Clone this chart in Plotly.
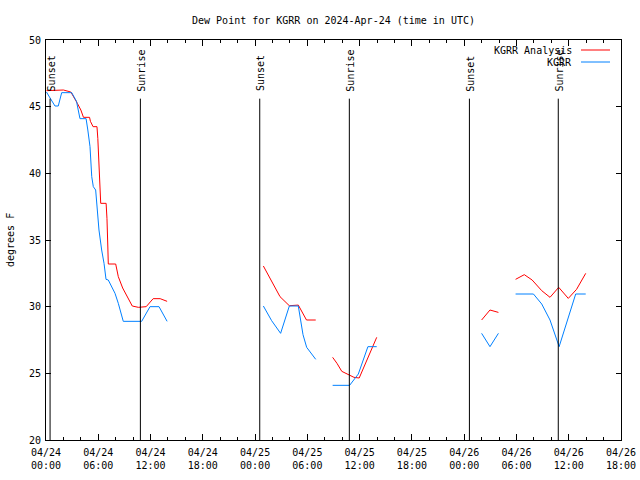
import pandas as pd
import plotly.graph_objects as go

# ---------------- data ----------------
start_time = "2024-04-24 00:00"

# KGRR Analysis (red), hours after start, split in segments (gaps between)
red_hours = [
    [0.05, 2.0, 2.85, 3.2, 3.6, 4.0, 4.3, 5.0, 5.1, 5.4, 5.85, 5.95, 6.08, 6.2, 6.28,
     6.9, 7.0, 7.1, 7.15, 8.0, 8.3, 8.8, 9.45, 9.9, 10.6, 11.5, 12.3, 13.1, 13.9],
    [24.95, 25.5, 26.1, 26.86, 27.93, 28.5, 28.96, 29.9, 30.96],
    [32.9, 33.4, 33.95, 34.8, 35.35, 35.95, 37.0, 37.96],
    [50.0, 50.96, 51.93],
    [53.9, 54.9, 55.8, 56.9, 57.85, 58.85, 59.95, 60.9, 61.95],
]
red_values = [
    [46.2, 46.25, 46.1, 45.75, 45.25, 44.75, 44.2, 44.2, 43.9, 43.5, 43.5, 42.6, 40.75, 38.75, 37.75,
     37.75, 36.6, 34.4, 33.2, 33.2, 32.25, 31.4, 30.6, 30.05, 29.95, 30.0, 30.6, 30.6, 30.4],
    [33.05, 32.4, 31.75, 30.75, 30.07, 30.12, 30.12, 29.0, 29.0],
    [26.2, 25.75, 25.15, 24.9, 24.7, 24.65, 26.25, 27.7],
    [29.0, 29.75, 29.57],
    [32.05, 32.4, 32.0, 31.2, 30.7, 31.45, 30.62, 31.3, 32.5],
]

# KGRR observations (blue)
blue_hours = [
    [0.05, 1.03, 1.41, 1.8, 2.95, 3.5, 3.9, 4.6, 4.8, 5.05, 5.25, 5.43, 5.7, 5.8, 6.08,
     6.39, 6.66, 6.89, 7.15, 7.92, 8.3, 8.87, 10.98, 11.94, 12.97, 13.9],
    [24.95, 25.9, 26.93, 27.93, 28.96, 29.35, 29.5, 29.92, 30.96],
    [32.9, 34.85, 35.85, 36.95, 37.96],
    [50.0, 50.96, 51.93],
    [53.9, 55.95, 56.9, 57.85, 58.9, 60.8, 61.95],
]
blue_values = [
    [46.1, 45.05, 45.05, 46.05, 46.05, 45.4, 44.1, 44.1, 43.25, 42.0, 39.75, 39.0, 38.75, 37.75, 35.75,
     34.25, 33.25, 32.05, 32.0, 31.0, 30.25, 28.9, 28.9, 30.0, 30.0, 28.9],
    [30.05, 28.95, 28.0, 30.05, 30.05, 28.5, 27.9, 26.95, 26.05],
    [24.1, 24.1, 24.95, 27.0, 27.0],
    [28.0, 27.0, 28.0],
    [30.95, 30.95, 30.2, 29.0, 27.0, 30.95, 30.95],
]

sun_times = ["2024-04-24 00:28", "2024-04-24 10:50", "2024-04-25 00:32",
             "2024-04-25 10:49", "2024-04-26 00:36", "2024-04-26 10:48"]
sun_labels = ["Sunset", "Sunrise", "Sunset", "Sunrise", "Sunset", "Sunrise"]
sun_line_top = 45.6
sun_label_base = 46.0

x_tick_times = ["2024-04-24 00:00", "2024-04-24 06:00", "2024-04-24 12:00", "2024-04-24 18:00",
                "2024-04-25 00:00", "2024-04-25 06:00", "2024-04-25 12:00", "2024-04-25 18:00",
                "2024-04-26 00:00", "2024-04-26 06:00", "2024-04-26 12:00", "2024-04-26 18:00"]
x_tick_text = ["04/24<br>00:00", "04/24<br>06:00", "04/24<br>12:00", "04/24<br>18:00",
               "04/25<br>00:00", "04/25<br>06:00", "04/25<br>12:00", "04/25<br>18:00",
               "04/26<br>00:00", "04/26<br>06:00", "04/26<br>12:00", "04/26<br>18:00"]
y_ticks = [20, 25, 30, 35, 40, 45, 50]

series_names = ["KGRR Analysis", "KGRR"]
series_colors = ["#ff0000", "#0080ff"]

# ---------------- build ----------------
base = pd.Timestamp(start_time)


def join_segments(hours_list, values_list):
    xs, ys = [], []
    for hrs, vals in zip(hours_list, values_list):
        xs.extend(list(base + pd.to_timedelta(hrs, unit="h")))
        ys.extend(vals)
        xs.append(None)
        ys.append(None)
    return xs, ys


FONT = "DejaVu Sans Mono"
FIG_W, FIG_H = 640, 480

fig = go.Figure()

for name, color, hrs, vals in [(series_names[0], series_colors[0], red_hours, red_values),
                               (series_names[1], series_colors[1], blue_hours, blue_values)]:
    xs, ys = join_segments(hrs, vals)
    fig.add_trace(go.Scatter(x=xs, y=ys, mode="lines", name=name,
                             line=dict(color=color, width=1), connectgaps=False,
                             showlegend=False, hoverinfo="skip"))

# sunrise / sunset markers
for t, lab in zip(sun_times, sun_labels):
    fig.add_shape(type="line", xref="x", yref="y", x0=t, x1=t, y0=20, y1=sun_line_top,
                  line=dict(color="black", width=1))
    fig.add_annotation(x=t, y=sun_label_base, xref="x", yref="y", text=lab, textangle=-90,
                       showarrow=False, xanchor="center", yanchor="bottom", xshift=1,
                       font=dict(family=FONT, size=10, color="black"))

# gnuplot-style legend: text right-aligned, line sample on the right
W = 575.0
H = 400.0
for i, (name, color) in enumerate(zip(series_names, series_colors)):
    ypx = 50 + 12 * i
    yp = (440 - ypx) / H
    fig.add_annotation(x=(574 - 46) / W, y=yp, xref="paper", yref="paper", text=name,
                       showarrow=False, xanchor="right", yanchor="middle",
                       font=dict(family=FONT, size=10, color="black"))
    fig.add_shape(type="line", xref="paper", yref="paper",
                  x0=(581 - 46) / W, x1=(610 - 46) / W, y0=yp, y1=yp,
                  line=dict(color=color, width=1))

# y-axis label
fig.add_annotation(x=(10 - 46) / W, y=0.5, xref="paper", yref="paper", text="degrees F",
                   textangle=-90, showarrow=False, xanchor="center", yanchor="middle",
                   font=dict(family=FONT, size=10, color="black"))

x_end = base + pd.Timedelta(hours=66)

fig.update_layout(
    width=FIG_W, height=FIG_H,
    margin=dict(l=46, r=19, t=40, b=40, autoexpand=False),
    paper_bgcolor="white", plot_bgcolor="white",
    title=dict(text="Dew Point for KGRR on 2024-Apr-24 (time in UTC)",
               x=333.5 / FIG_W, xref="container", xanchor="center",
               y=1 - 20 / FIG_H, yref="container", yanchor="middle",
               font=dict(family=FONT, size=10, color="black")),
    font=dict(family=FONT, size=10, color="black"),
    showlegend=False,
    hovermode=False,
)
fig.update_xaxes(
    type="date", range=[base, x_end], automargin=False,
    tickvals=x_tick_times, ticktext=x_tick_text,
    ticks="inside", ticklen=6, tickcolor="black", tickwidth=1,
    minor=dict(dtick=2 * 3600 * 1000, ticks="inside", ticklen=3, tickcolor="black", showgrid=False),
    showline=True, linecolor="black", linewidth=1, mirror="ticks",
    showgrid=False, zeroline=False, ticklabelstandoff=3,
    tickfont=dict(family=FONT, size=10, color="black"),
)
fig.update_yaxes(
    range=[20, 50], tickvals=y_ticks, automargin=False,
    ticks="inside", ticklen=5, tickcolor="black", tickwidth=1,
    showline=True, linecolor="black", linewidth=1, mirror="ticks",
    showgrid=False, zeroline=False, ticklabelstandoff=2,
    tickfont=dict(family=FONT, size=10, color="black"),
)

# remove the default page margin so the 640x480 figure fills the window exactly
fig.write_html("out.html",
               config={"displayModeBar": False, "staticPlot": True},
               post_script="document.body.style.margin='0';"
                           "document.documentElement.style.overflow='hidden';")
